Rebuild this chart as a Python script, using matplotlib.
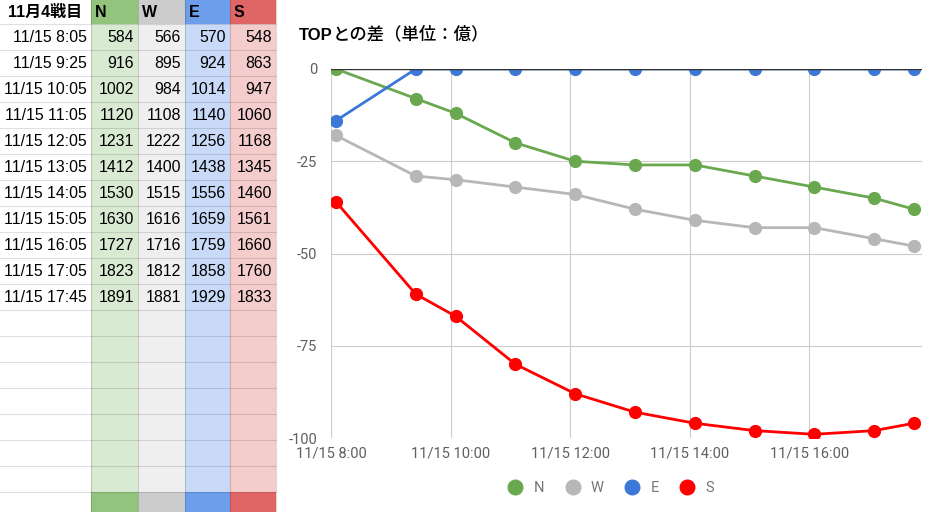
import matplotlib
matplotlib.use('Agg')
import matplotlib.pyplot as plt
import matplotlib.dates as mdates
from matplotlib.patches import Rectangle
from matplotlib.lines import Line2D
from matplotlib.ticker import FuncFormatter
from datetime import datetime

plt.rcParams['axes.unicode_minus'] = False

# ---------------- data ----------------
header_label = "11月4戦目"
teams = ["N", "W", "E", "S"]
time_labels = ["11/15 8:05", "11/15 9:25", "11/15 10:05", "11/15 11:05",
               "11/15 12:05", "11/15 13:05", "11/15 14:05", "11/15 15:05",
               "11/15 16:05", "11/15 17:05", "11/15 17:45"]
N_vals = [584, 916, 1002, 1120, 1231, 1412, 1530, 1630, 1727, 1823, 1891]
W_vals = [566, 895, 984, 1108, 1222, 1400, 1515, 1616, 1716, 1812, 1881]
E_vals = [570, 924, 1014, 1140, 1256, 1438, 1556, 1659, 1759, 1858, 1929]
S_vals = [548, 863, 947, 1060, 1168, 1345, 1460, 1561, 1660, 1760, 1833]
title_latin = "TOP"
title_jp = "との差（単位：億）"
y_ticks = [0, -25, -50, -75, -100]
x_tick_hours = [8, 10, 12, 14, 16]
year = 2018

# ---------------- styles ----------------
head_colors = ["#93c47d", "#cccccc", "#6d9eeb", "#e06666"]
light_colors = ["#d9ead3", "#efefef", "#c9daf8", "#f4cccc"]
line_colors = ["#6aa84f", "#b7b7b7", "#3c78d8", "#ff0000"]
LAT = ["Liberation Sans", "Noto Sans CJK JP", "DejaVu Sans"]
ROB = ["Roboto", "DejaVu Sans"]

W_PX, H_PX = 939, 512
fig = plt.figure(figsize=(W_PX / 100, H_PX / 100), dpi=100)
bg = fig.add_axes([0, 0, 1, 1])
bg.set_xlim(0, W_PX)
bg.set_ylim(H_PX, 0)
bg.axis('off')

# ---------------- table ----------------
series = [N_vals, W_vals, E_vals, S_vals]
col_edges = [0, 91, 138, 185, 230, 276]
header_h = 24
row_h = 26
n_total_rows = 19
row_tops = [header_h + row_h * k for k in range(n_total_rows)]
bottom_row_top = row_tops[-1]

for j in range(4):
    x0, x1 = col_edges[j + 1], col_edges[j + 2]
    bg.add_patch(Rectangle((x0, 0), x1 - x0, header_h, color=head_colors[j], lw=0, zorder=1))
    bg.add_patch(Rectangle((x0, header_h), x1 - x0, bottom_row_top - header_h,
                           color=light_colors[j], lw=0, zorder=1))
    bg.add_patch(Rectangle((x0, bottom_row_top), x1 - x0, H_PX - bottom_row_top,
                           color=head_colors[j], lw=0, zorder=1))

# grid lines
for yt in [header_h] + row_tops[1:]:
    bg.plot([0, col_edges[-1]], [yt, yt], color="#000000", alpha=0.12, lw=0.8, zorder=2)
for xe in col_edges[1:]:
    bg.plot([xe, xe], [0, H_PX], color="#000000", alpha=0.15, lw=0.8, zorder=2)

# header texts
bg.text((col_edges[0] + col_edges[1]) / 2, header_h / 2 + 0.5, header_label,
        ha='center', va='center', fontsize=11.5, fontweight='bold', family=LAT, zorder=3)
for j, t in enumerate(teams):
    bg.text(col_edges[j + 1] + 4, header_h / 2 + 0.5, t, ha='left', va='center',
            fontsize=11.5, fontweight='bold', family=LAT, zorder=3)

# body texts
for i, lab in enumerate(time_labels):
    yc = header_h + row_h * i + row_h / 2 + 1
    bg.text(col_edges[1] - 4, yc, lab, ha='right', va='center', fontsize=11.4, family=LAT, zorder=3)
    for j in range(4):
        bg.text(col_edges[j + 2] - 4, yc, str(series[j][i]), ha='right', va='center',
                fontsize=11.4, family=LAT, zorder=3)

# ---------------- chart ----------------
times = [datetime.strptime(f"{year}/" + s, "%Y/%m/%d %H:%M") for s in time_labels]
tops = [max(v) for v in zip(*series)]
diffs = [[v - t for v, t in zip(s, tops)] for s in series]

L, R, T, B = 331, 922, 69, 438
ax = fig.add_axes([L / W_PX, 1 - B / H_PX, (R - L) / W_PX, (B - T) / H_PX])
ax.set_facecolor('none')
for j in range(4):
    ax.plot(times, diffs[j], color=line_colors[j], lw=2.0, marker='o', markersize=8.5,
            solid_capstyle='round', zorder=3 + j)

ax.axhline(0, color="#333333", lw=1.0, zorder=10)
ax.set_ylim(-100, 0)
ax.set_xlim(datetime(year, 11, 15, 8, 0), datetime(year, 11, 15, 17, 53))
ax.set_yticks(y_ticks)
ax.set_xticks([mdates.date2num(datetime(year, 11, 15, h)) for h in x_tick_hours])

def fmt(v, p):
    d = mdates.num2date(v)
    return f"{d.month}/{d.day} {d.hour}:{d.minute:02d}"

ax.xaxis.set_major_formatter(FuncFormatter(fmt))
ax.grid(True, color="#cccccc", lw=0.8, zorder=0)
ax.set_axisbelow(True)
for sp in ax.spines.values():
    sp.set_visible(False)
ax.tick_params(axis='both', length=0, labelsize=10.5, labelcolor="#5f5f5f")
ax.tick_params(axis='y', pad=10)
ax.tick_params(axis='x', pad=6)
for lbl in ax.get_xticklabels() + ax.get_yticklabels():
    lbl.set_family(ROB)

# title
renderer = fig.canvas.get_renderer()
t1 = bg.text(299, 39.5, title_latin, ha='left', va='baseline', fontsize=12,
             fontweight='bold', family=LAT, zorder=3)
ext = t1.get_window_extent(renderer=renderer)
bg.text(ext.x1, 39.5, title_jp, ha='left', va='baseline', fontsize=12.5,
        family=["Noto Sans CJK JP", "DejaVu Sans"], fontweight='medium', zorder=3)

# legend
handles = [Line2D([], [], marker='o', linestyle='none', markersize=10.5, color=c) for c in line_colors]
leg = fig.legend(handles, teams, loc='center', bbox_to_anchor=(611 / W_PX, 1 - 488 / H_PX),
                 ncol=4, frameon=False, handlelength=1.0, handletextpad=0.75,
                 columnspacing=1.45, prop={'family': ROB, 'size': 10.5})
for txt in leg.get_texts():
    txt.set_color("#757575")

fig.savefig("out.png", dpi=100)
